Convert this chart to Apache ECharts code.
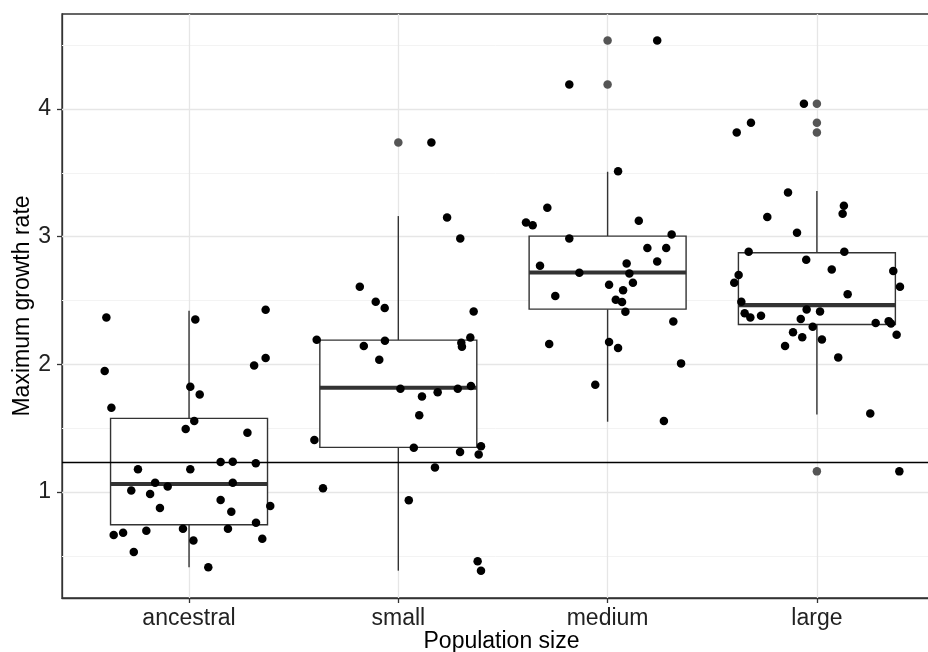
<!DOCTYPE html>
<html>
<head>
<meta charset="utf-8">
<script src="https://cdn.jsdelivr.net/npm/echarts@6/dist/echarts.min.js"></script>
<style>
html,body{margin:0;padding:0;background:#fff;}
#chart{width:928px;height:652px;}
</style>
</head>
<body>
<div id="chart"></div>
<script>
const categories = ['ancestral', 'small', 'medium', 'large'];
const xTicks = [1, 2, 3, 4];
const yTicks = [1, 2, 3, 4];
const yMinor = [0.5, 1.5, 2.5, 3.5, 4.5];
const refLine = 1.227;

// box statistics per category
const boxMin    = [0.410, 0.384, 1.551, 1.608];
const boxQ1     = [0.744, 1.350, 2.433, 2.313];
const boxMedian = [1.063, 1.817, 2.720, 2.465];
const boxQ3     = [1.577, 2.190, 3.005, 2.875];
const boxMax    = [2.420, 3.162, 3.509, 3.358];

// outliers (category index 0-based, value)
const outlierCat = [1, 2, 2, 3, 3, 3, 3];
const outlierY   = [3.739, 4.538, 4.193, 4.042, 3.893, 3.817, 1.162];

// jittered observations: offset from category centre, value
const ancestralJit = [-0.395,0.030,0.366,-0.403,0.311,0.366,-0.371,0.006,0.051,0.025,-0.016,0.279,-0.244,0.006,0.151,0.209,0.319,-0.162,-0.102,0.209,-0.276,-0.186,-0.139,0.151,0.202,0.388,-0.360,-0.315,-0.204,-0.029,0.186,0.320,0.021,0.350,-0.264,0.092];
const ancestralY   = [2.368,2.352,2.428,1.948,1.992,2.050,1.660,1.825,1.765,1.556,1.493,1.465,1.178,1.178,1.235,1.238,1.225,1.073,1.044,1.073,1.013,0.984,0.875,0.937,0.846,0.890,0.663,0.681,0.697,0.713,0.713,0.760,0.621,0.634,0.530,0.410];
const smallJit = [0.158,0.233,0.296,-0.184,-0.108,-0.065,0.360,-0.390,-0.064,-0.165,0.344,0.301,0.304,-0.091,0.010,0.113,0.188,0.284,0.347,0.100,-0.401,0.074,0.295,0.395,0.384,0.175,-0.360,0.050,0.379,0.395];
const smallY   = [3.739,3.151,2.987,2.608,2.491,2.441,2.415,2.193,2.185,2.144,2.211,2.170,2.138,2.036,1.809,1.749,1.781,1.809,1.830,1.601,1.407,1.347,1.313,1.358,1.295,1.193,1.029,0.935,0.457,0.384];
const mediumJit = [0.237,-0.183,0.050,-0.288,-0.390,-0.358,0.149,0.306,-0.183,0.190,0.280,0.237,-0.323,0.091,-0.135,0.104,0.121,0.007,0.074,-0.250,0.039,0.069,0.085,0.314,-0.279,0.007,0.050,0.351,-0.059,0.269];
const mediumY   = [4.538,4.193,3.514,3.227,3.112,3.091,3.125,3.018,2.987,2.911,2.911,2.807,2.773,2.791,2.718,2.713,2.640,2.624,2.580,2.535,2.506,2.488,2.412,2.337,2.159,2.175,2.128,2.008,1.841,1.556];
const largeJit = [-0.062,-0.315,-0.383,-0.138,0.129,0.123,-0.237,-0.095,-0.326,0.131,-0.051,0.071,0.365,-0.374,-0.395,0.397,0.147,-0.361,-0.049,0.015,-0.345,-0.318,-0.267,-0.077,-0.020,0.281,0.343,0.354,-0.114,-0.070,0.024,0.381,-0.152,0.102,0.255,0.394];
const largeY   = [4.042,3.893,3.817,3.347,3.243,3.180,3.154,3.031,2.882,2.882,2.820,2.744,2.731,2.700,2.640,2.608,2.549,2.491,2.431,2.415,2.400,2.368,2.381,2.355,2.295,2.324,2.339,2.321,2.251,2.212,2.196,2.232,2.144,2.055,1.616,1.162];

const jitters = [ancestralJit, smallJit, mediumJit, largeJit];
const values  = [ancestralY, smallY, mediumY, largeY];

const pointData = [];
jitters.forEach((jit, ci) => {
  jit.forEach((j, k) => pointData.push([xTicks[ci] + j, values[ci][k]]));
});
const outlierData = outlierCat.map((c, i) => [xTicks[c], outlierY[i]]);
const boxData = categories.map((c, i) => [xTicks[i], boxMin[i], boxQ1[i], boxMedian[i], boxQ3[i], boxMax[i]]);

const HALF = 0.375;
const ink = '#333333';
const font = 'Liberation Sans, Arial, sans-serif';

const chart = echarts.init(document.getElementById('chart'), null, {renderer: 'canvas'});

const gridLines = [];
yMinor.forEach(v => gridLines.push({yAxis: v, lineStyle: {color: '#f3f3f3', width: 1, type: 'solid'}}));
yTicks.forEach(v => gridLines.push({yAxis: v, lineStyle: {color: '#e6e6e6', width: 1.3, type: 'solid'}}));
xTicks.forEach(v => gridLines.push({xAxis: v, lineStyle: {color: '#e6e6e6', width: 1.3, type: 'solid'}}));

chart.setOption({
  animation: false,
  backgroundColor: '#ffffff',
  grid: {left: 62, top: 14, width: 879, height: 584, outerBoundsMode: 'none', containLabel: false,
         show: true, borderColor: ink, borderWidth: 1.3, backgroundColor: 'transparent'},
  xAxis: {
    type: 'value', min: 0.393, max: 4.593,
    name: 'Population size', nameLocation: 'middle', nameGap: 32, nameMoveOverlap: false,
    nameTextStyle: {fontFamily: font, fontSize: 23, color: '#000'},
    axisLine: {show: true, onZero: false, lineStyle: {color: ink, width: 1.3}},
    axisTick: {show: true, customValues: xTicks, length: 5, lineStyle: {color: ink, width: 1.3}},
    axisLabel: {customValues: xTicks, margin: 9, fontFamily: font, fontSize: 23, color: '#222',
      formatter: v => categories[Math.round(v) - 1] || ''},
    splitLine: {show: false}
  },
  yAxis: {
    type: 'value', min: 0.17, max: 4.745,
    name: 'Maximum growth rate', nameLocation: 'middle', nameGap: 28, nameMoveOverlap: false,
    nameTextStyle: {fontFamily: font, fontSize: 23, color: '#000'},
    axisLine: {show: true, onZero: false, lineStyle: {color: ink, width: 1.3}},
    axisTick: {show: true, customValues: yTicks, length: 5, lineStyle: {color: ink, width: 1.3}},
    axisLabel: {customValues: yTicks, margin: 11, fontFamily: font, fontSize: 23, color: '#222'},
    splitLine: {show: false}
  },
  series: [
    {
      type: 'scatter', data: [], z: 1, silent: true,
      markLine: {silent: true, z: 1, symbol: 'none', label: {show: false}, animation: false, data: gridLines}
    },
    {
      type: 'custom', z: 2, silent: true,
      data: boxData,
      renderItem: function (params, api) {
        const x = api.value(0);
        const mn = api.value(1), q1 = api.value(2), md = api.value(3), q3 = api.value(4), mx = api.value(5);
        const tl = api.coord([x - HALF, q3]);
        const br = api.coord([x + HALF, q1]);
        const top = api.coord([x, mx]);
        const bot = api.coord([x, mn]);
        const pq3 = api.coord([x, q3]);
        const pq1 = api.coord([x, q1]);
        const ml = api.coord([x - HALF, md]);
        const mr = api.coord([x + HALF, md]);
        const ls = {stroke: ink, lineWidth: 1.4, fill: null};
        return {type: 'group', children: [
          {type: 'line', shape: {x1: top[0], y1: top[1], x2: pq3[0], y2: pq3[1]}, style: ls},
          {type: 'line', shape: {x1: pq1[0], y1: pq1[1], x2: bot[0], y2: bot[1]}, style: ls},
          {type: 'rect', shape: {x: tl[0], y: tl[1], width: br[0] - tl[0], height: br[1] - tl[1]}, style: {stroke: ink, lineWidth: 1.4, fill: '#ffffff'}},
          {type: 'line', shape: {x1: ml[0], y1: ml[1], x2: mr[0], y2: mr[1]}, style: {stroke: ink, lineWidth: 4.2}}
        ]};
      }
    },
    {
      type: 'scatter', data: [], z: 3, silent: true,
      markLine: {silent: true, z: 3, symbol: 'none', label: {show: false}, animation: false,
        data: [{yAxis: refLine, lineStyle: {color: '#000', width: 1.3, type: 'solid'}}]}
    },
    {
      type: 'scatter', z: 4, silent: true, data: outlierData,
      symbol: 'circle', symbolSize: 8.5, itemStyle: {color: '#555555', opacity: 1}
    },
    {
      type: 'scatter', z: 5, silent: true, data: pointData,
      symbol: 'circle', symbolSize: 8.5, itemStyle: {color: '#000', opacity: 1}
    }
  ]
});
</script>
</body>
</html>
